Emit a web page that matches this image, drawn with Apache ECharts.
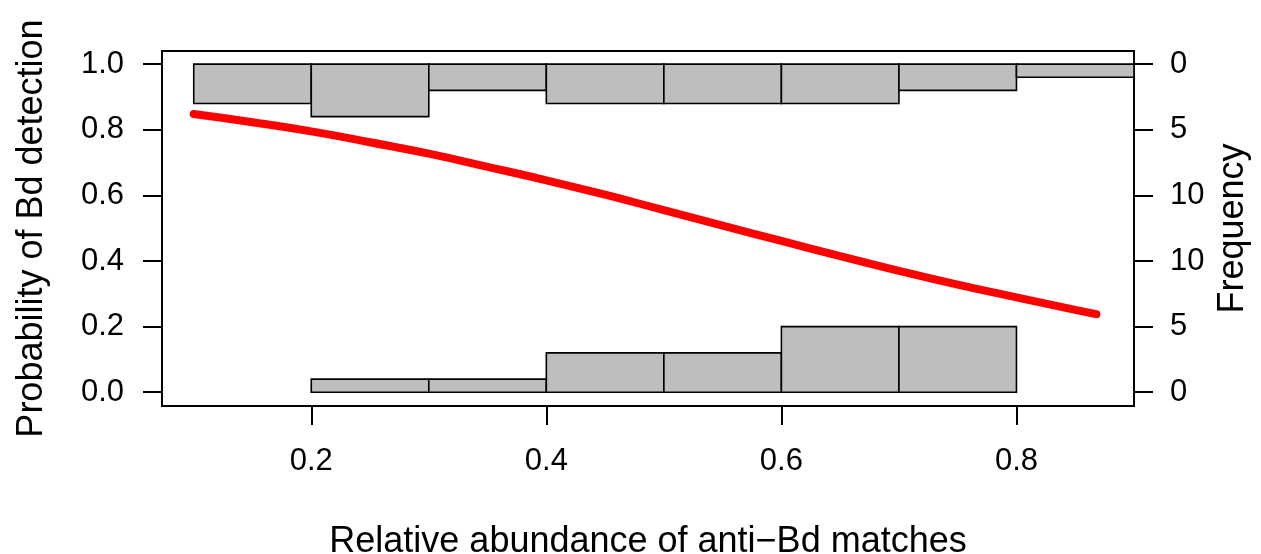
<!DOCTYPE html>
<html>
<head>
<meta charset="utf-8">
<script src="https://cdn.jsdelivr.net/npm/echarts@6/dist/echarts.min.js"></script>
<style>
html, body { margin: 0; background: #fff; }
#chart { width: 1261px; height: 554px; }
</style>
</head>
<body>
<div id="chart"></div>
<script>
// histogram bins (left edges), width 0.1
var binStarts = [0.1, 0.2, 0.3, 0.4, 0.5, 0.6, 0.7, 0.8];
var binWidth = 0.1;
// counts hanging from 1.0 (Bd detected) and standing on 0.0 (not detected)
var detectedCounts = [3, 4, 2, 3, 3, 3, 2, 1];
var undetectedCounts = [0, 1, 1, 3, 3, 5, 5, 0];
// one count = 0.04 on the probability axis (5 counts = 0.2)
var countScale = 0.04;

// fitted curve
var curveX = [0.1, 0.15, 0.2, 0.25, 0.3, 0.35, 0.4, 0.45, 0.5, 0.55, 0.6, 0.65, 0.7, 0.75, 0.8, 0.85, 0.868];
var curveY = [0.848, 0.823, 0.795, 0.762, 0.727, 0.687, 0.646, 0.602, 0.555, 0.508, 0.461, 0.415, 0.370, 0.328, 0.289, 0.251, 0.238];

var leftTicks = [0, 0.2, 0.4, 0.6, 0.8, 1];
var leftTickLabels = ['0.0', '0.2', '0.4', '0.6', '0.8', '1.0'];
var rightTickLabels = ['0', '5', '10', '10', '5', '0'];
var xTicks = [0.2, 0.4, 0.6, 0.8];

var font = 'Liberation Sans, Arial, sans-serif';

function histItem(fromTop) {
	return function (params, api) {
		var x0 = api.value(0);
		var n = api.value(1);
		var yBase = fromTop ? 1 : 0;
		var yEnd = fromTop ? 1 - n * countScale : n * countScale;
		var p0 = api.coord([x0, yBase]);
		var p1 = api.coord([x0 + binWidth, yEnd]);
		return {
			type: 'rect',
			shape: {
				x: p0[0],
				y: Math.min(p0[1], p1[1]),
				width: p1[0] - p0[0],
				height: Math.abs(p1[1] - p0[1])
			},
			style: { fill: '#bebebe', stroke: '#000', lineWidth: 1.6 }
		};
	};
}

function pairs(xs, ys) {
	var out = [];
	for (var i = 0; i < xs.length; i++) {
		if (ys[i] > 0) out.push([xs[i], ys[i]]);
	}
	return out;
}

var curveData = curveX.map(function (x, i) { return [x, curveY[i]]; });

function yAxisBase(pos, labels, margin) {
	return {
		type: 'value',
		position: pos,
		min: -0.042,
		max: 1.04,
		splitLine: { show: false },
		axisLine: { show: false, onZero: false },
		axisTick: {
			show: true,
			customValues: leftTicks,
			length: 19,
			lineStyle: { color: '#000', width: 2 }
		},
		axisLabel: {
			customValues: leftTicks,
			margin: margin,
			fontSize: 31,
			fontFamily: font,
			color: '#000',
			formatter: function (v) {
				var idx = Math.round(v / 0.2);
				return labels[idx];
			}
		}
	};
}

var left = yAxisBase('left', leftTickLabels, 38);
left.name = 'Probability of Bd detection';
left.nameLocation = 'middle';
left.nameGap = 112;
left.nameRotate = 90;
left.nameTextStyle = { fontSize: 36, fontFamily: font, color: '#000' };

var right = yAxisBase('right', rightTickLabels, 36);
right.name = 'Frequency';
right.nameLocation = 'middle';
right.nameGap = 80;
right.nameRotate = 90;
right.nameTextStyle = { fontSize: 36, fontFamily: font, color: '#000' };

var myChart = echarts.init(document.getElementById('chart'));
myChart.setOption({
	animation: false,
	backgroundColor: '#fff',
	grid: {
		left: 162, right: 127, top: 51, bottom: 148,
		outerBoundsMode: 'none',
		containLabel: false,
		show: true,
		borderColor: '#000',
		borderWidth: 2
	},
	xAxis: {
		type: 'value',
		min: 0.073,
		max: 0.9,
		splitLine: { show: false },
		axisLine: { show: false, onZero: false },
		axisTick: {
			show: true,
			customValues: xTicks,
			length: 19,
			lineStyle: { color: '#000', width: 2 }
		},
		axisLabel: {
			customValues: xTicks,
			margin: 40,
			fontSize: 31,
			fontFamily: font,
			color: '#000'
		},
		name: 'Relative abundance of anti\u2212Bd matches',
		nameLocation: 'middle',
		nameGap: 118,
		nameTextStyle: { fontSize: 36, fontFamily: font, color: '#000' }
	},
	yAxis: [left, right],
	series: [
		{
			type: 'custom',
			renderItem: histItem(true),
			data: pairs(binStarts, detectedCounts),
			encode: { x: 0 },
			yAxisIndex: 0,
			z: 2
		},
		{
			type: 'custom',
			renderItem: histItem(false),
			data: pairs(binStarts, undetectedCounts),
			encode: { x: 0 },
			yAxisIndex: 0,
			z: 2
		},
		{
			type: 'line',
			data: curveData,
			smooth: true,
			showSymbol: false,
			symbol: 'none',
			lineStyle: { color: '#ff0000', width: 8, cap: 'round' },
			yAxisIndex: 0,
			z: 3
		}
	]
});
</script>
</body>
</html>
